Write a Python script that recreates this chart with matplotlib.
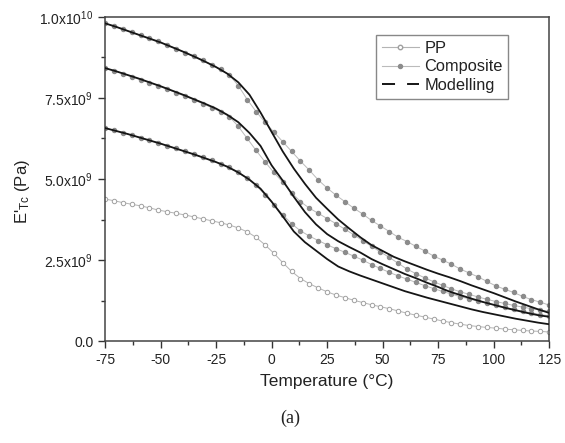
import numpy as np
import matplotlib
matplotlib.use("Agg")
import matplotlib.pyplot as plt
from matplotlib.lines import Line2D
from matplotlib.ticker import MultipleLocator, FixedLocator, FixedFormatter

plt.rcParams['font.family'] = ['Liberation Sans', 'DejaVu Sans']
plt.rcParams['mathtext.default'] = 'regular'
plt.rcParams['axes.unicode_minus'] = False

# measured temperatures (deg C)
temp_data = np.arange(-75, 126, 4)
temp_model = np.arange(-75, 126, 5)

# storage modulus, units of 1e9 Pa
pp = [4.38, 4.33, 4.27, 4.22, 4.17, 4.11, 4.04, 3.99, 3.94, 3.89,
      3.83, 3.77, 3.71, 3.65, 3.58, 3.49, 3.37, 3.20, 2.97, 2.71,
      2.42, 2.15, 1.93, 1.77, 1.64, 1.52, 1.42, 1.34, 1.26, 1.19,
      1.12, 1.06, 1.00, 0.93, 0.86, 0.80, 0.74, 0.68, 0.62, 0.57,
      0.52, 0.48, 0.45, 0.42, 0.40, 0.37, 0.35, 0.33, 0.31, 0.30, 0.28]

comp_hi = [9.80, 9.72, 9.63, 9.53, 9.43, 9.34, 9.25, 9.13, 9.02, 8.90,
           8.79, 8.66, 8.52, 8.38, 8.20, 7.88, 7.45, 7.08, 6.75, 6.45,
           6.15, 5.85, 5.55, 5.27, 4.97, 4.72, 4.50, 4.30, 4.10, 3.92,
           3.72, 3.55, 3.38, 3.20, 3.07, 2.92, 2.78, 2.62, 2.50, 2.37,
           2.22, 2.10, 1.98, 1.84, 1.70, 1.60, 1.50, 1.38, 1.28, 1.20, 1.11]

comp_mid = [8.42, 8.34, 8.25, 8.15, 8.06, 7.97, 7.87, 7.77, 7.66, 7.55,
            7.44, 7.32, 7.20, 7.07, 6.92, 6.62, 6.25, 5.88, 5.53, 5.20,
            4.90, 4.58, 4.30, 4.10, 3.94, 3.78, 3.62, 3.45, 3.28, 3.10,
            2.92, 2.75, 2.58, 2.40, 2.22, 2.08, 1.95, 1.83, 1.72, 1.61,
            1.52, 1.44, 1.36, 1.29, 1.22, 1.16, 1.10, 1.05, 1.00, 0.96, 0.92]

comp_lo = [6.57, 6.50, 6.43, 6.35, 6.27, 6.19, 6.11, 6.02, 5.94, 5.85,
           5.76, 5.67, 5.57, 5.47, 5.36, 5.22, 5.02, 4.80, 4.52, 4.20,
           3.90, 3.62, 3.40, 3.24, 3.10, 2.97, 2.85, 2.74, 2.62, 2.50,
           2.36, 2.24, 2.12, 2.01, 1.91, 1.81, 1.71, 1.62, 1.53, 1.45,
           1.37, 1.30, 1.23, 1.17, 1.10, 1.04, 0.98, 0.92, 0.87, 0.82, 0.78]

model_hi = [9.80, 9.69, 9.57, 9.45, 9.33, 9.21, 9.07, 8.93, 8.78, 8.62,
            8.45, 8.25, 7.98, 7.60, 7.05, 6.45, 5.85, 5.32, 4.85, 4.42,
            4.08, 3.75, 3.47, 3.20, 2.96, 2.78, 2.60, 2.46, 2.33, 2.20,
            2.08, 1.97, 1.85, 1.72, 1.60, 1.48, 1.35, 1.22, 1.10, 0.98, 0.87]

model_mid = [8.42, 8.32, 8.21, 8.10, 7.98, 7.86, 7.73, 7.60, 7.46, 7.32,
             7.17, 6.98, 6.75, 6.42, 6.02, 5.42, 4.95, 4.45, 3.98, 3.60,
             3.30, 3.08, 2.90, 2.73, 2.53, 2.37, 2.22, 2.07, 1.94, 1.80,
             1.67, 1.53, 1.42, 1.31, 1.21, 1.12, 1.03, 0.95, 0.87, 0.80, 0.75]

model_lo = [6.57, 6.48, 6.39, 6.29, 6.19, 6.09, 5.98, 5.87, 5.76, 5.64,
            5.52, 5.38, 5.20, 4.98, 4.70, 4.30, 3.85, 3.38, 3.05, 2.79,
            2.53, 2.30, 2.15, 2.02, 1.90, 1.78, 1.66, 1.54, 1.44, 1.34,
            1.25, 1.16, 1.07, 0.98, 0.90, 0.83, 0.76, 0.69, 0.63, 0.57, 0.52]

ytick_vals = [0, 2.5e9, 5.0e9, 7.5e9, 1.0e10]
ytick_labels = ['0.0', r'2.5x10$^{9}$', r'5.0x10$^{9}$', r'7.5x10$^{9}$', r'1.0x10$^{10}$']

fig = plt.figure(figsize=(5.65, 4.43), dpi=100)
ax = fig.add_axes([0.186, 0.23, 0.786, 0.732])

scale = 1e9
ax.plot(temp_data, np.array(pp) * scale, color='#b4b4b4', lw=0.7, marker='o',
        ms=3.2, mfc='white', mec='#a0a0a0', mew=0.7, zorder=2)
for comp in (comp_hi, comp_mid, comp_lo):
    ax.plot(temp_data, np.array(comp) * scale, color='#bbbbbb', lw=0.7, marker='o',
            ms=2.9, mfc='#8c8c8c', mec='#8c8c8c', zorder=2)
for mod in (model_hi, model_mid, model_lo):
    ax.plot(temp_model, np.array(mod) * scale, color='#151515', lw=1.3, zorder=3)

ax.set_xlim(-75, 125)
ax.set_ylim(0, 1.0e10)
ax.xaxis.set_major_locator(MultipleLocator(25))
ax.xaxis.set_minor_locator(MultipleLocator(12.5))
ax.yaxis.set_major_locator(FixedLocator(ytick_vals))
ax.yaxis.set_major_formatter(FixedFormatter(ytick_labels))
ax.yaxis.set_minor_locator(MultipleLocator(1.25e9))

ax.tick_params(which='major', direction='out', length=5, width=1.0, color='#333333',
               labelsize=10, labelcolor='#222222')
ax.tick_params(which='minor', direction='out', length=3, width=1.0, color='#333333')
for s in ax.spines.values():
    s.set_color('#444444')
    s.set_linewidth(1.1)

ax.set_xlabel('Temperature (°C)', fontsize=12.5, color='#222222', labelpad=5)
ax.set_ylabel(r"E'$_{Tc}$ (Pa)", fontsize=12, color='#222222')
ax.yaxis.set_label_coords(-0.165, 0.46)

handles = [
    Line2D([], [], color='#b4b4b4', lw=0.8, marker='o', ms=3.2, mfc='white', mec='#a0a0a0'),
    Line2D([], [], color='#bbbbbb', lw=0.8, marker='o', ms=2.9, mfc='#8c8c8c', mec='#8c8c8c'),
    Line2D([], [], color='#151515', lw=1.4, linestyle=(0, (6.7, 6.2))),
]
leg = ax.legend(handles, ['PP', 'Composite', 'Modelling'], loc='upper right',
                bbox_to_anchor=(0.908, 0.944), borderaxespad=0, fontsize=11.8,
                handlelength=2.3, labelspacing=0.22, handletextpad=0.3,
                borderpad=0.35, fancybox=False, framealpha=1)
leg.get_frame().set_edgecolor('#888888')
leg.get_frame().set_linewidth(1.0)
for t in leg.get_texts():
    t.set_color('#222222')

fig.text(0.513, 0.055, '(a)', fontsize=13, family='Liberation Serif',
         ha='center', va='center', color='#222222')

fig.savefig('out.png', dpi=100)
